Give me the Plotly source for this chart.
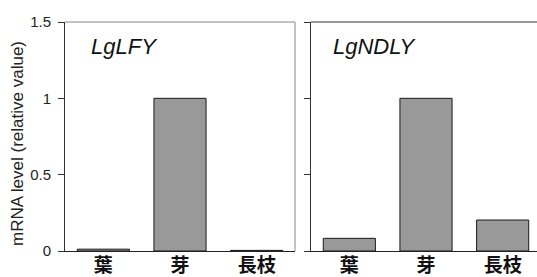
import plotly.graph_objects as go

categories = ["葉", "芽", "長枝"]
lgLFY = [0.012, 1.0, 0.004]
lgNDLY = [0.083, 1.0, 0.203]
genes = ["LgLFY", "LgNDLY"]
y_ticks = [0, 0.5, 1, 1.5]
y_tick_labels = ["0", "0.5", "1", "1.5"]
y_title = "mRNA level (relative value)"

W, H = 537, 277
ybot, ytop = 1 - 251 / H, 1 - 22 / H

fig = go.Figure()
bar_style = dict(marker=dict(color="#999999", line=dict(color="#1a1a1a", width=1)), width=0.68, showlegend=False)
fig.add_trace(go.Bar(x=categories, y=lgLFY, xaxis="x", yaxis="y", **bar_style))
fig.add_trace(go.Bar(x=categories, y=lgNDLY, xaxis="x2", yaxis="y2", **bar_style))

xcommon = dict(showgrid=False, zeroline=False, showline=True, linecolor="#222", linewidth=1,
               ticks="", ticklabelstandoff=-3,
               tickfont=dict(family="Noto Sans CJK JP", size=19, color="#111", weight="bold"),
               automargin=False)
ycommon = dict(range=[0, 1.5], tickvals=y_ticks, showgrid=False, zeroline=False, showline=True,
               linecolor="#333", linewidth=1, ticks="outside", ticklen=6, tickcolor="#333",
               automargin=False)

fig.update_layout(
    width=W, height=H, margin=dict(l=0, r=0, t=0, b=0),
    paper_bgcolor="white", plot_bgcolor="white",
    bargap=0.32,
    xaxis=dict(domain=[65 / W, 295 / W], range=[-0.5, 2.5], anchor="y", **xcommon),
    xaxis2=dict(domain=[311 / W, 1.0], range=[-0.5, 2.5 - 4 / 76.7], anchor="y2", **xcommon),
    yaxis=dict(domain=[ybot, ytop], anchor="x", ticktext=y_tick_labels, ticklabelstandoff=4,
               tickfont=dict(family="Liberation Sans", size=15, color="#222"), **ycommon),
    yaxis2=dict(domain=[ybot, ytop], anchor="x2", showticklabels=False, **ycommon),
    font=dict(family="Liberation Sans"),
)

# panel frame (top/right lines)
fig.add_shape(type="line", xref="x domain", yref="y domain", x0=0, x1=1, y0=1, y1=1,
              line=dict(color="#888", width=1))
fig.add_shape(type="line", xref="x domain", yref="y domain", x0=1, x1=1, y0=0, y1=1,
              line=dict(color="#888", width=1))
fig.add_shape(type="line", xref="x2 domain", yref="y2 domain", x0=0, x1=1, y0=1, y1=1,
              line=dict(color="#333", width=1))

# gene labels
fig.add_annotation(text="<i>" + genes[0] + "</i>", xref="paper", yref="paper", x=89 / W, y=1 - 46 / H,
                   xanchor="left", yanchor="middle", showarrow=False,
                   font=dict(family="Liberation Sans", size=22, color="#111"))
fig.add_annotation(text="<i>" + genes[1] + "</i>", xref="paper", yref="paper", x=331 / W, y=1 - 46 / H,
                   xanchor="left", yanchor="middle", showarrow=False,
                   font=dict(family="Liberation Sans", size=22, color="#111"))

# y axis title
fig.add_annotation(text=y_title, xref="paper", yref="paper", x=17 / W, y=1 - 144 / H,
                   textangle=-90, showarrow=False, xanchor="center", yanchor="middle",
                   font=dict(family="Liberation Sans", size=17, color="#222"))

fig.write_html("out.html", config={"displayModeBar": False},
               post_script="document.body.style.margin='0px';document.body.style.overflow='hidden';")
